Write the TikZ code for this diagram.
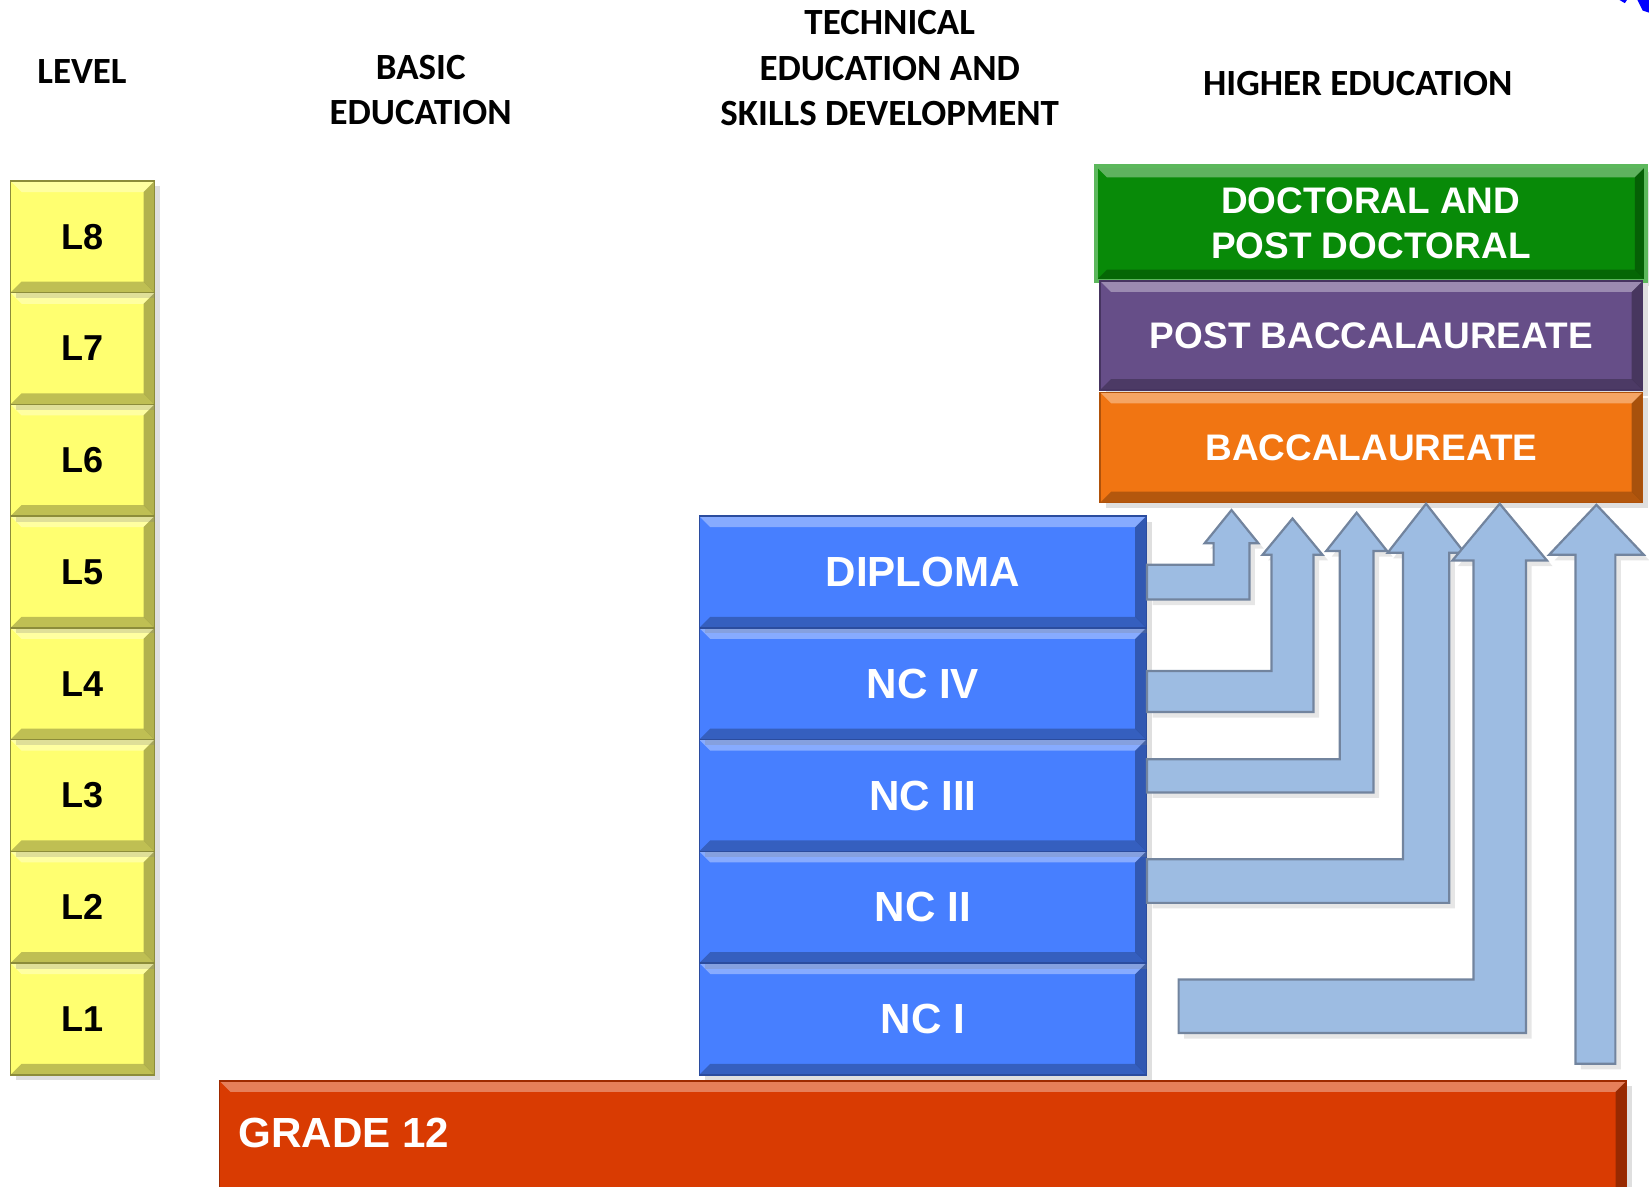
\documentclass[tikz,border=0pt]{standalone}
\usepackage{fontspec}
\setmainfont{Liberation Sans}
\newfontfamily\hdrfont{Carlito}
\usetikzlibrary{positioning, calc, shadows}
\definecolor{lvlyellow}{HTML}{FFFF70}
\definecolor{lvledge}{HTML}{8C8C3A}
\definecolor{tvetblue}{HTML}{477FFF}
\definecolor{tvetedge}{HTML}{2B4C9E}
\definecolor{gradered}{HTML}{D93B02}
\definecolor{gradeedge}{HTML}{9E2A00}
\definecolor{docgreen}{HTML}{088A08}
\definecolor{docedge}{HTML}{5CB85C}
\definecolor{postpurple}{HTML}{664E88}
\definecolor{postedge}{HTML}{463460}
\definecolor{bacorange}{HTML}{F17512}
\definecolor{bacedge}{HTML}{B0520A}
\definecolor{arrowblue}{HTML}{9DBCE2}
\definecolor{arrowedge}{HTML}{72849E}

\begin{document}
\begin{tikzpicture}[
    bevel/.style={
        path picture={
            \path (path picture bounding box.north west) coordinate (nw)
                  (path picture bounding box.north east) coordinate (ne)
                  (path picture bounding box.south west) coordinate (sw)
                  (path picture bounding box.south east) coordinate (se);
            \fill[white, opacity=0.35] (nw) -- (ne) -- ([shift={(-3pt,-3pt)}]ne) -- ([shift={(3pt,-3pt)}]nw) -- cycle;
            \fill[black, opacity=0.25] (sw) -- (se) -- ([shift={(-3pt,3pt)}]se) -- ([shift={(3pt,3pt)}]sw) -- cycle;
            \fill[black, opacity=0.3] (ne) -- (se) -- ([shift={(-3pt,3pt)}]se) -- ([shift={(-3pt,-3pt)}]ne) -- cycle;
        }
    },
    boxshadow/.style={
        drop shadow={opacity=0.25, shadow xshift=1.5pt, shadow yshift=-1.5pt}
    },
    header/.style={
        font=\hdrfont\bfseries\fontsize{10}{12.3}\selectfont,
        align=center,
        text=black
    },
    level/.style={
        draw=lvledge,
        fill=lvlyellow,
        bevel,
        boxshadow,
        minimum width=1.37cm,
        minimum height=1.0625cm,
        inner sep=0pt,
        font=\bfseries\fontsize{9.75}{12}\selectfont
    },
    tvet/.style={
        draw=tvetedge,
        fill=tvetblue,
        bevel,
        boxshadow,
        minimum width=4.25cm,
        minimum height=1.0625cm,
        inner sep=0pt,
        text=white,
        font=\bfseries\fontsize{11.4}{13}\selectfont
    },
    higher/.style={
        bevel,
        boxshadow,
        minimum width=5.16cm,
        inner sep=0pt,
        text=white,
        align=center,
        font=\bfseries\fontsize{10}{12.2}\selectfont
    },
    bluearrow/.style={
        fill=arrowblue,
        draw=arrowedge,
        line width=0.6pt,
        line join=miter,
        drop shadow={opacity=0.2, shadow xshift=1.5pt, shadow yshift=-1.5pt}
    }
]

\useasboundingbox (0,0) rectangle (15.68,-11.28);

% Column headers
\node[header] (hlevel) at (0.78, -0.68) {LEVEL};
\node[header] (hbasic) at (4.00, -0.855) {BASIC\\EDUCATION};
\node[header] (htvet) at (8.46, -0.65) {TECHNICAL\\EDUCATION AND\\SKILLS DEVELOPMENT};
\node[header] (hhigher) at (12.91, -0.79) {HIGHER EDUCATION};

% Levels (Left Column)
\foreach \i in {1,...,8} {
    \node[level] (l\i) at (0.785, {-9.689 + (\i-1)*1.0625}) {L\i};
}

% Grade 12 (Bottom)
\node[draw=gradeedge, fill=gradered, bevel, boxshadow, minimum width=13.38cm, minimum height=1.18cm,
      anchor=north west] (g12) at (2.08, -10.27) {};
\node[anchor=west, inner sep=0pt, text=white, font=\bfseries\fontsize{11.4}{13}\selectfont]
    (g12txt) at (2.26, -10.775) {GRADE 12};

% Technical education (Middle Column)
\foreach \i/\t in {1/NC I, 2/NC II, 3/NC III, 4/NC IV, 5/DIPLOMA} {
    \node[tvet] (t\i) at (l\i -| 8.775,0) {\t};
}

% Higher education (Right Column)
\node[higher, fill=docgreen, draw=docedge, line width=1pt, minimum width=5.23cm, minimum height=1.09cm]
    (doc) at (13.035, -2.125) {DOCTORAL AND\\POST DOCTORAL};
\node[higher, fill=postpurple, draw=postedge, minimum height=1.04cm]
    (pbac) at (13.04, -3.19) {POST BACCALAUREATE};
\node[higher, fill=bacorange, draw=bacedge, minimum height=1.05cm]
    (bac) at (13.04, -4.255) {BACCALAUREATE};

% Bent arrows from NC / Diploma up to higher education
\foreach \i/\dx/\ya/\yb/\xa/\xb/\yh/\hw/\yt in {
    5/0/5.37/5.70/11.54/11.88/5.165/0.255/4.85,
    4/0/6.38/6.77/12.09/12.49/5.275/0.285/4.93,
    3/0/7.22/7.535/12.74/13.06/5.24/0.29/4.875,
    2/0/8.17/8.585/13.34/13.78/5.256/0.365/4.79,
    1/0.3/9.314/9.823/14.01/14.51/5.33/0.45/4.79} {
    \pgfmathsetmacro\xt{(\xa+\xb)/2}
    \coordinate (s\i) at ([xshift=\dx cm]t\i.east);
    \draw[bluearrow] (s\i |- 0,-\ya) -- (\xa,-\ya) -- (\xa,-\yh) -- ({\xt-\hw},-\yh) -- (\xt,-\yt)
        -- ({\xt+\hw},-\yh) -- (\xb,-\yh) -- (\xb,-\yb) -- (s\i |- 0,-\yb) -- cycle;
}

% Straight arrow from Grade 12
\draw[bluearrow] (14.98,-10.115) -- (14.98,-5.275) -- (14.73,-5.275) -- (15.18,-4.80)
    -- (15.63,-5.275) -- (15.36,-5.275) -- (15.36,-10.115) -- cycle;

% Corner fragment
\fill[blue] (15.57,0) -- (15.68,0) -- (15.68,-0.12) -- (15.62,-0.10) -- cycle;
\fill[blue] (15.40,0) -- (15.47,0) -- (15.45,-0.03) -- cycle;

\end{tikzpicture}
\end{document}
